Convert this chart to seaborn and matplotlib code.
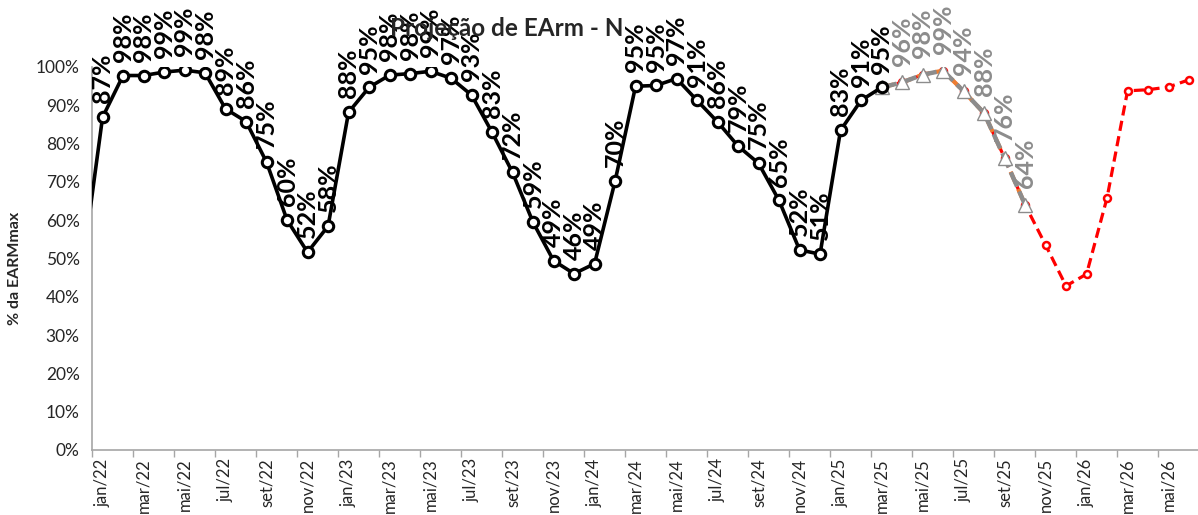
import matplotlib
matplotlib.use("Agg")
import matplotlib.pyplot as plt
import seaborn as sns
import pandas as pd
import numpy as np

MESES = ["jan", "fev", "mar", "abr", "mai", "jun", "jul", "ago", "set", "out", "nov", "dez"]

# dez/21 .. jun/26 -> indice -1 .. 53 (jan/22 = 0)
MONTH_LABELS = [f"{MESES[m % 12]}/{22 + m // 12}" for m in range(0, 54)]

# historico (dez/21 .. mar/25)
hist_idx = list(range(-1, 39))
hist_vals = [47.0,
             86.8, 97.7, 97.7, 98.6, 99.1, 98.4, 89.0, 85.7, 75.1, 60.0, 51.6, 58.4,
             88.1, 94.6, 97.8, 98.2, 98.8, 97.0, 92.6, 82.9, 72.4, 59.4, 49.4, 46.0,
             48.6, 70.1, 94.9, 95.1, 96.9, 91.2, 85.6, 79.3, 74.8, 65.1, 52.2, 51.1,
             83.4, 91.2, 94.6]

# previsao (mar/25 .. out/25)
prev_idx = list(range(38, 46))
prev_vals = [94.6, 95.9, 97.9, 99.0, 93.6, 87.9, 76.2, 64.0]

# projecao (mar/25 .. jun/26)
proj_idx = list(range(38, 54))
proj_vals = [94.6, 95.9, 97.9, 99.0, 93.6, 87.9, 76.2, 64.0,
             53.5, 42.8, 45.9, 65.8, 93.7, 94.0, 94.7, 96.6]

sns.set_style("white")
plt.rcParams["font.family"] = ["Lato", "DejaVu Sans"]

fig = plt.figure(figsize=(11.98, 5.15), dpi=100)
ax = fig.add_axes([92.3 / 1198, 65 / 515, (1199.3 - 92.3) / 1198, (450 - 66.7) / 515])

df_hist = pd.DataFrame({"mes": hist_idx, "earm": hist_vals})
df_prev = pd.DataFrame({"mes": prev_idx, "earm": prev_vals})
df_proj = pd.DataFrame({"mes": proj_idx, "earm": proj_vals})

# projecao vermelha
sns.lineplot(data=df_proj, x="mes", y="earm", ax=ax, color="#FF0000", linewidth=2.3,
             linestyle=(0, (3.2, 1.7)), marker="o", markersize=5,
             markerfacecolor="white", markeredgecolor="#FF0000", markeredgewidth=1.8, zorder=2)
# previsao laranja (por baixo)
sns.lineplot(data=df_prev, x="mes", y="earm", ax=ax, color="#ED7D31", linewidth=3,
             linestyle=(0, (3, 1.5)), zorder=3)
# previsao cinza
sns.lineplot(data=df_prev, x="mes", y="earm", ax=ax, color="#8C8C8C", linewidth=3.2,
             linestyle=(0, (3.5, 1.2)), marker="^", markersize=10,
             markerfacecolor="white", markeredgecolor="#8C8C8C", markeredgewidth=1.0, zorder=4)
# historico
sns.lineplot(data=df_hist, x="mes", y="earm", ax=ax, color="black", linewidth=2.6,
             marker="o", markersize=7.5, markerfacecolor="white",
             markeredgecolor="black", markeredgewidth=2.2, zorder=5)

# rotulos de dados
for x, v in zip(hist_idx[1:], hist_vals[1:]):
    ax.annotate(f"{round(v)}%", (x, v), xytext=(0, 10), textcoords="offset points",
                rotation=90, ha="center", va="bottom", fontsize=18, fontweight="bold",
                color="black", annotation_clip=False, zorder=6)
for x, v in zip(prev_idx[1:], prev_vals[1:]):
    ax.annotate(f"{round(v)}%", (x, v), xytext=(0, 12), textcoords="offset points",
                rotation=90, ha="center", va="bottom", fontsize=18, fontweight="bold",
                color="#8C8C8C", annotation_clip=False, zorder=6)

ax.set_xlim(-0.5, 53.5)
ax.set_ylim(0, 100)
ax.set_yticks(range(0, 101, 10))
ax.set_yticklabels([f"{t}%" for t in range(0, 101, 10)], fontsize=12.5)

label_pos = list(range(0, 54, 2))
ax.set_xticks(label_pos)
ax.set_xticklabels([MONTH_LABELS[i] for i in label_pos], rotation=90, fontsize=12)
ax.set_xticks(np.arange(-0.5, 52, 2), minor=True)
ax.tick_params(axis="x", which="major", length=0, pad=6)
ax.tick_params(axis="x", which="minor", length=5, width=1, color="#A6A6A6", direction="out")
ax.tick_params(axis="y", length=5, width=1, color="#A6A6A6", direction="out", pad=4)
ax.xaxis.set_tick_params(bottom=True, which="both")

for s in ["top", "right"]:
    ax.spines[s].set_visible(False)
for s in ["left", "bottom"]:
    ax.spines[s].set_color("#A6A6A6")
    ax.spines[s].set_linewidth(1.2)

ax.set_xlabel("")
ax.set_ylabel("")
ax.grid(False)

fig.text(507 / 1198, 1 - 29 / 515, "Projeção de EArm - N", ha="center", va="center",
         fontsize=17.5, fontweight="bold")
fig.text(15 / 1198, 1 - 268 / 515, "% da EARMmax", ha="center", va="center",
         rotation=90, fontsize=11.5, fontweight="bold")

fig.savefig("out.png", dpi=100)
